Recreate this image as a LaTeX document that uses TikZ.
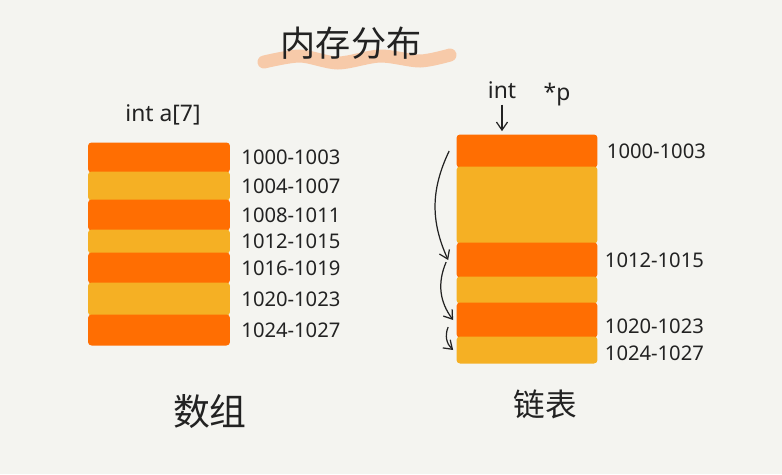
\documentclass[tikz,border=0pt]{standalone}
\usepackage{fontspec}
\setmainfont{Noto Sans}
\newfontfamily\cjk{Noto Sans CJK SC}
\usepackage{xcolor}
\usetikzlibrary{positioning,arrows.meta}

\definecolor{paper}{HTML}{F4F4F0}
\definecolor{bandO}{HTML}{FF6E02}
\definecolor{bandY}{HTML}{F5B024}
\definecolor{brush}{HTML}{F8C6A2}
\definecolor{ink}{HTML}{222222}

\begin{document}
\begin{tikzpicture}[x=0.02cm, y=-0.02cm]
    \tikzstyle{band} = [rectangle, rounded corners=2pt, inner sep=0pt, minimum width=2.84cm]
    \tikzstyle{addr} = [text=ink, font=\fontsize{11.5}{12}\selectfont, inner sep=1pt]
    \tikzstyle{hand} = [ink, line width=0.7pt, -{Straight Barb[length=1.6mm, width=2.2mm]}]

    % Paper
    \fill[paper] (0,0) rectangle (782,474);

    % Title with brush stroke
    \draw[brush, line width=2.6mm, line cap=round, opacity=0.9] plot[smooth] coordinates {(264,62) (300,56) (338,63) (380,56) (420,61) (450,55)};
    \node[text=ink, font=\cjk\fontsize{20}{22}\selectfont] (title) at (351,43) {内存分布};

    % Array: one block of memory
    \node[text=ink, font=\fontsize{13}{14}\selectfont] (arr) at (163,115) {int a[7]};
    \foreach \yc/\h/\col/\lbl [count=\i] in {157.5/6.0/bandO/1000-1003, 186/5.8/bandY/1004-1007,
            215/6.2/bandO/1008-1011, 241.5/4.8/bandY/1012-1015, 268/6.2/bandO/1016-1019,
            299/6.6/bandY/1020-1023, 330/6.2/bandO/1024-1027} {
        \node[band, fill=\col, minimum height=\h mm] (a\i) at (159,\yc) {};
        \node[addr, right=1.8mm of a\i.east] (la\i) {\lbl};
    }
    \node[text=ink, font=\cjk\fontsize{21}{22}\selectfont] (arrname) at (210,412) {数组};

    % Linked list: scattered nodes
    \node[text=ink, font=\fontsize{13}{14}\selectfont] (ptr) at (502,90) {int};
    \node[text=ink, font=\fontsize{13}{14}\selectfont] (pname) at (557,95) {*p};
    \foreach \yc/\h/\col [count=\i] in {151/6.6/bandO, 205/15.4/bandY, 260/7.0/bandO,
            290/5.4/bandY, 320/7.0/bandO, 350/5.4/bandY} {
        \node[band, fill=\col, minimum width=2.82cm, minimum height=\h mm] (b\i) at (527,\yc) {};
    }
    \node[addr, right=1.4mm of b1.east] (lb1) {1000-1003};
    \node[addr, right=1.0mm of b3.east] (lb3) {1012-1015};
    \node[addr, right=1.0mm of b5.east, yshift=-1.2mm] (lb5) {1020-1023};
    \node[addr, right=1.0mm of b6.east, yshift=-0.6mm] (lb6) {1024-1027};

    % Pointer and next links
    \draw[hand, shorten >=0.6mm] (ptr.south) -- (ptr.south |- b1.north);
    \draw[hand] ([xshift=-1.4mm]b1.west) to[bend right=25] ([xshift=-1.6mm]b3.west);
    \draw[hand] ([xshift=-2mm, yshift=-0.4mm]b3.west) to[bend right=30] ([xshift=-0.6mm]b5.west);
    \draw[hand] ([xshift=-1.6mm, yshift=-1.4mm]b5.west) to[bend right=35] ([xshift=-0.6mm]b6.west);
    \node[text=ink, font=\cjk\fontsize{18}{20}\selectfont] (listname) at (545,404) {链表};
\end{tikzpicture}
\end{document}
